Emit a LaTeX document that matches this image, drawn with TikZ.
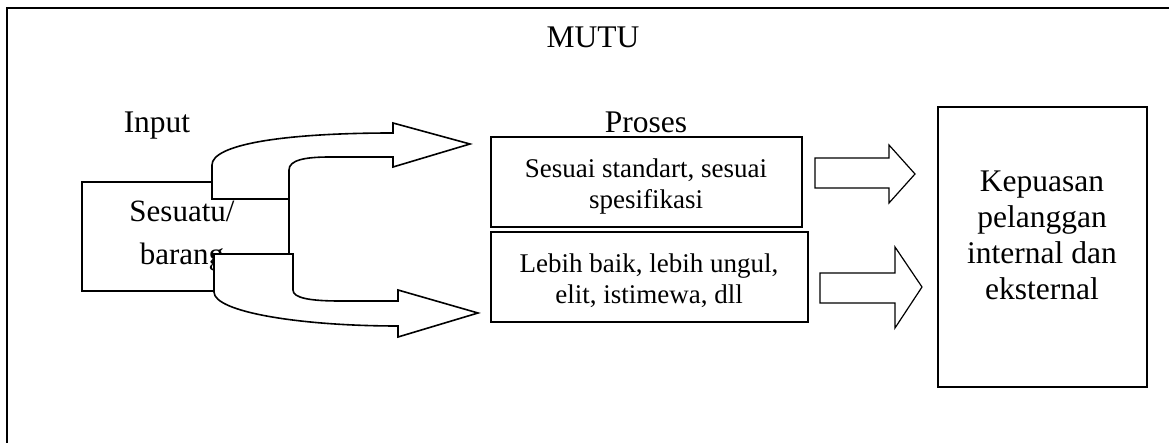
\documentclass[tikz,border=0pt]{standalone}
\usepackage{fontspec}
\setmainfont{Liberation Serif}
\usepackage{tikz}
\usetikzlibrary{positioning}

\newcommand\hurufbesar{\fontsize{31.5}{36}\selectfont}
\newcommand\hurufkecil{\fontsize{27}{31}\selectfont}

\begin{document}
\begin{tikzpicture}[x=1pt,y=-1pt,line join=miter,inner sep=0pt,
                    font=\hurufbesar]
  \tikzstyle{kotak}=[draw,line width=1.8pt,fill=white]
  \tikzstyle{panah}=[draw,line width=1.6pt,fill=white]
  \tikzstyle{panahlurus}=[draw,line width=1.2pt,fill=white]
  \tikzstyle{teks}=[align=center]

  \clip (0,0) rectangle (1169,443);
  \draw[line width=2.6pt] (7,8) rectangle (1190,460);

  \node[anchor=base] (mutu) at (593,48) {MUTU};
  \node[anchor=base] (input) at (157,133) {Input};
  \node[anchor=base] (proses) at (646,133) {Proses};

  % input
  \node[kotak,minimum width=207,minimum height=109] (brg) at (185.5,236.5) {};
  \node[teks,font=\fontsize{31}{43}\selectfont] (brgtxt) at (182,236.4)
    {Sesuatu/\\barang};

  % proses
  \node[kotak,minimum width=311,minimum height=90] (std) at (646.5,182) {};
  \node[teks,font=\hurufkecil] (stdtxt) at (646,186.3)
    {Sesuai standart, sesuai\\spesifikasi};
  \node[kotak,minimum width=317,minimum height=90] (ung) at (649.5,277) {};
  \node[teks,font=\hurufkecil] (ungtxt) at (649,280.7)
    {Lebih baik, lebih ungul,\\elit, istimewa, dll};

  % hasil
  \node[kotak,minimum width=209,minimum height=280] (puas) at (1042.5,247) {};
  \node[teks] (puastxt) at (1042,235)
    {Kepuasan\\pelanggan\\internal dan\\eksternal};

  % panah lengkung
  \path[panah] (212,199) -- (212,165)
    .. controls (212,145) and (280,133) .. (393,133)
    -- (393,123) -- (470,144) -- (393,167) -- (393,157) -- (330,157)
    .. controls (305,157) and (289,160) .. (289,170) -- (289,199) -- cycle;
  \path[panah] (214,254) -- (293,254) -- (293,290)
    .. controls (293,298) and (310,301) .. (340,301)
    -- (398,301) -- (398,290) -- (478,313) -- (398,337) -- (398,326)
    .. controls (300,326) and (214,312) .. (214,292) -- cycle;

  % panah lurus
  \path[panahlurus] (815,158) -- (889,158) -- (889,145) -- (915,174)
    -- (889,203) -- (889,188) -- (815,188) -- cycle;
  \path[panahlurus] (820,273) -- (895,273) -- (895,247) -- (922,287)
    -- (895,328) -- (895,303) -- (820,303) -- cycle;
\end{tikzpicture}
\end{document}
